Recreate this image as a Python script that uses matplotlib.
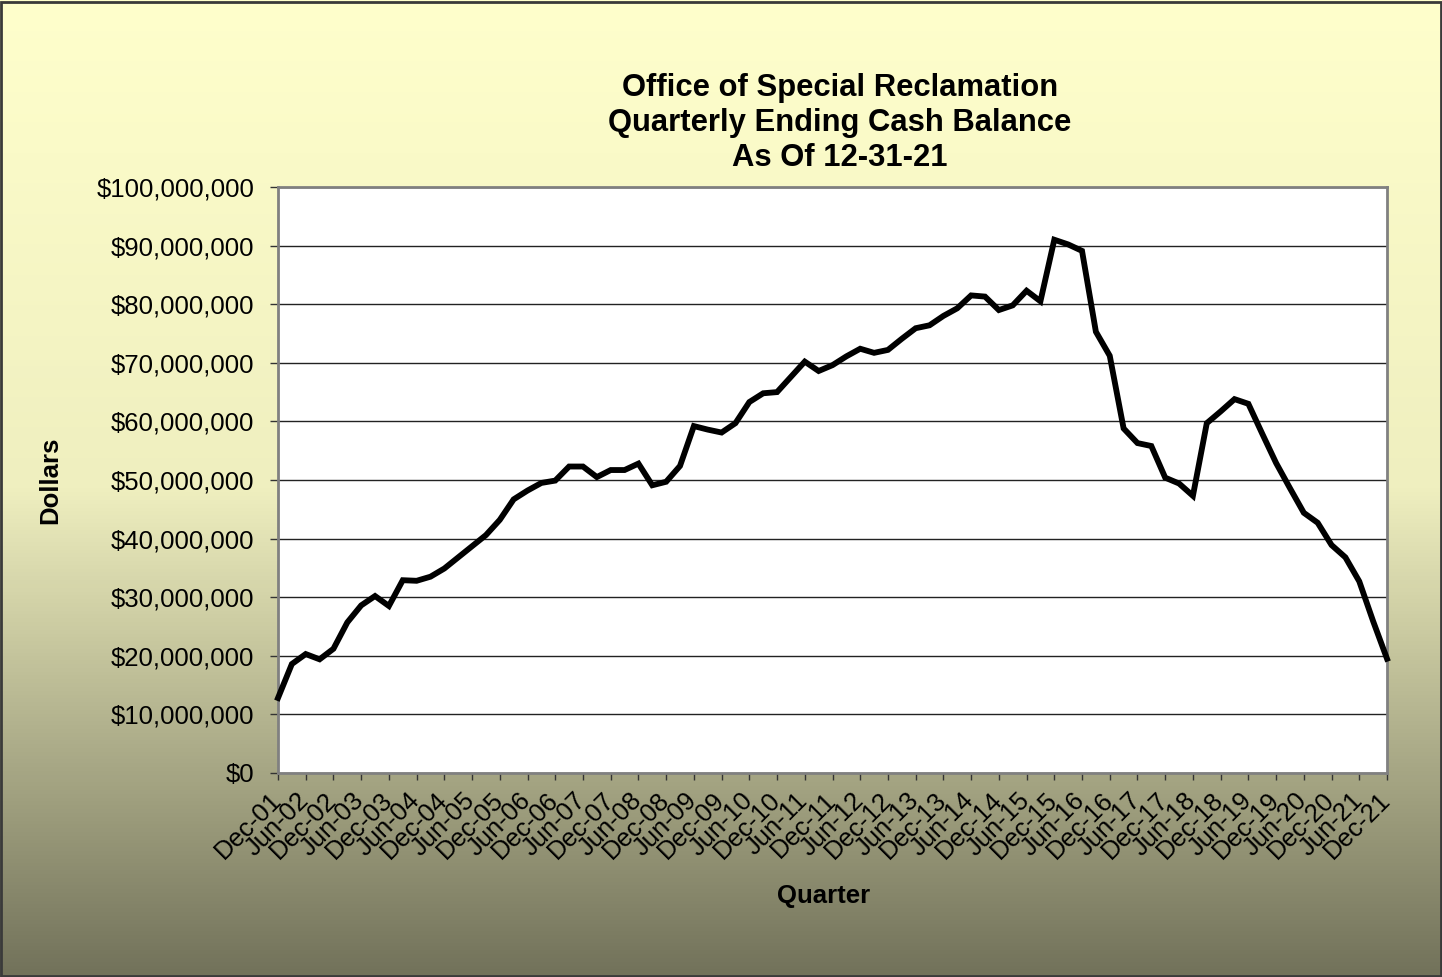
import matplotlib
matplotlib.use("Agg")
import matplotlib.pyplot as plt
import matplotlib.transforms as mtransforms
import numpy as np
from matplotlib.colors import LinearSegmentedColormap
from matplotlib.patches import Rectangle
from matplotlib.ticker import FuncFormatter, MultipleLocator

plt.rcParams['font.family'] = ['Liberation Sans', 'DejaVu Sans']

# Quarterly ending cash balance, millions of dollars (Dec-01 .. Dec-21)
balance_musd = [
    12.8, 18.6, 20.3, 19.4, 21.2, 25.7, 28.6, 30.2, 28.5, 32.9,
    32.8, 33.5, 34.9, 36.8, 38.7, 40.6, 43.2, 46.7, 48.2, 49.5,
    49.9, 52.3, 52.3, 50.5, 51.7, 51.7, 52.8, 49.1, 49.7, 52.4,
    59.2, 58.6, 58.1, 59.7, 63.3, 64.8, 65.0, 67.6, 70.2, 68.6,
    69.6, 71.1, 72.4, 71.7, 72.2, 74.1, 75.9, 76.4, 78.0, 79.3,
    81.5, 81.3, 79.0, 79.8, 82.3, 80.5, 91.0, 90.2, 89.1, 75.3,
    71.2, 58.8, 56.3, 55.8, 50.4, 49.4, 47.3, 59.7, 61.7, 63.8,
    63.0, 57.9, 52.9, 48.6, 44.4, 42.7, 38.9, 36.8, 32.7, 25.9,
    19.5,
]

tick_labels = [
    "Dec-01", "Jun-02", "Dec-02", "Jun-03", "Dec-03", "Jun-04", "Dec-04",
    "Jun-05", "Dec-05", "Jun-06", "Dec-06", "Jun-07", "Dec-07", "Jun-08",
    "Dec-08", "Jun-09", "Dec-09", "Jun-10", "Dec-10", "Jun-11", "Dec-11",
    "Jun-12", "Dec-12", "Jun-13", "Dec-13", "Jun-14", "Dec-14", "Jun-15",
    "Dec-15", "Jun-16", "Dec-16", "Jun-17", "Dec-17", "Jun-18", "Dec-18",
    "Jun-19", "Dec-19", "Jun-20", "Dec-20", "Jun-21", "Dec-21",
]

W, H = 1442, 977
fig = plt.figure(figsize=(W / 100, H / 100), dpi=100)

# gradient background
bg = fig.add_axes([0, 0, 1, 1], zorder=-10)
cmap = LinearSegmentedColormap.from_list("bg", ["#FFFFCC", "#EFEFBF", "#72725A"])
grad = np.linspace(0, 1, 256).reshape(-1, 1)
bg.imshow(grad, aspect='auto', cmap=cmap, extent=[0, 1, 0, 1], origin='upper')
bg.set_xlim(0, 1)
bg.set_ylim(0, 1)
bg.axis('off')
bg.add_patch(Rectangle((0.001, 0.001), 0.998, 0.997, fill=False,
                       edgecolor='#3a3a3a', lw=2, transform=bg.transAxes))

ax = fig.add_axes([278 / W, 1 - 773 / H, (1387 - 278) / W, (773 - 187) / H])
ax.set_facecolor('white')

x = np.arange(len(balance_musd))
y = np.array(balance_musd) * 1e6
ax.plot(x, y, color='black', lw=4.2, solid_joinstyle='miter', zorder=3, clip_on=False)

ax.set_xlim(0, len(balance_musd) - 1)
ax.set_ylim(0, 100e6)
ax.yaxis.set_major_locator(MultipleLocator(10e6))
ax.yaxis.set_major_formatter(FuncFormatter(lambda v, p: "${:,.0f}".format(v)))
ax.grid(axis='y', color='#222222', lw=1.0)
ax.set_axisbelow(True)

ax.set_xticks(np.arange(0, len(balance_musd), 2))
ax.set_xticklabels(tick_labels, rotation=45, ha='right', va='top',
                   rotation_mode='default')

for s in ax.spines.values():
    s.set_color('#808080')
    s.set_linewidth(2)

ax.tick_params(axis='y', length=6, width=1, color='#333333', labelsize=18.5, pad=11)
ax.tick_params(axis='x', length=5, width=1, color='#333333', labelsize=18.5, pad=6)

offset = mtransforms.ScaledTranslation(8 / 100, 0, fig.dpi_scale_trans)
for lbl in ax.get_xticklabels():
    lbl.set_transform(lbl.get_transform() + offset)

fig.text(50 / W, 1 - 480 / H, "Dollars", rotation=90, ha='center', va='center',
         fontsize=18.5, fontweight='bold')
fig.text(824 / W, 1 - 896 / H, "Quarter", ha='center', va='center',
         fontsize=18.5, fontweight='bold')
fig.text(840 / W, 1 - 123 / H,
         "Office of Special Reclamation\nQuarterly Ending Cash Balance\nAs Of 12-31-21",
         ha='center', va='center', fontsize=22.3, fontweight='bold', linespacing=1.22)

fig.savefig("out.png", dpi=100)
